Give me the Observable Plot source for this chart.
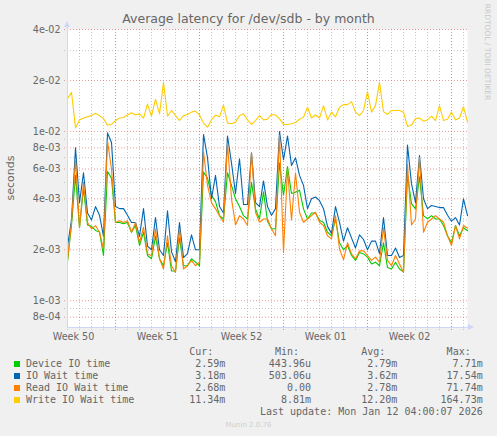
<!DOCTYPE html>
<html><head><meta charset="utf-8">
<script src="https://cdn.jsdelivr.net/npm/d3@7"></script>
<script src="https://cdn.jsdelivr.net/npm/@observablehq/plot@0.6"></script>
<style>
body{margin:0;background:#f0f0f0;}
#wrap{position:relative;width:497px;height:436px;background:#f0f0f0;overflow:hidden;font-family:"DejaVu Sans",sans-serif;color:#666;}
.abs{position:absolute;white-space:pre;}
.mono{font-family:"DejaVu Sans Mono",monospace;font-size:10px;line-height:12px;}
</style></head><body>
<div id="wrap">
  <div id="title" class="abs" style="left:0;top:11px;width:497px;text-align:center;font-size:12.5px;line-height:16px;"></div>
  <div id="chart" class="abs" style="left:0;top:28px;"></div>
  <div id="ylabel" class="abs" style="left:-39px;top:172px;width:100px;text-align:center;font-size:11px;line-height:12px;transform:rotate(-90deg);"></div>
  <div id="mark" class="abs" style="left:427px;top:47px;width:120px;text-align:center;font-size:7.5px;line-height:10px;color:#c8c8c8;transform:rotate(90deg);">RRDTOOL / TOBI OETIKER</div>
  <div id="legend"></div>
  <div class="abs" style="left:0;top:421px;width:497px;text-align:center;font-size:7px;line-height:8px;color:#cfcfcf;">Munin 2.0.76</div>
</div>
<script>
// ---- data ----
const titleText = "Average latency for /dev/sdb - by month";
const yLabel = "seconds";
const seriesNames = ["Device IO time", "IO Wait time", "Read IO Wait time", "Write IO Wait time"];
const seriesColors = ["#00CC00", "#0066B3", "#FF8000", "#FFCC00"];
const curVals = ["2.59m", "3.18m", "2.68m", "11.34m"];
const minVals = ["443.96u", "503.06u", "0.00", "8.81m"];
const avgVals = ["2.79m", "3.62m", "2.78m", "12.20m"];
const maxVals = ["7.71m", "17.54m", "71.74m", "164.73m"];
const lastUpdate = "Last update: Mon Jan 12 04:00:07 2026";
const weekLabels = ["Week 50", "Week 51", "Week 52", "Week 01", "Week 02"];
const yTicks = [8e-4, 1e-3, 2e-3, 4e-3, 6e-3, 8e-3, 1e-2, 2e-2, 4e-2];
const yTickLabels = ["8e-04","1e-03","2e-03","4e-03","6e-03","8e-03","1e-02","2e-02","4e-02"];
const yMinor = [9e-4, 3e-3, 5e-3, 7e-3, 9e-3, 3e-2];
const yDomain = [6.95e-4, 4e-2];
const startTime = Date.UTC(2025, 11, 11);   // first sample, 8-hour steps
const stepHours = 8;

const deviceIO = [1.7e-3,2.8e-3,5.5e-3,2.7e-3,4.6e-3,2.8e-3,2.75e-3,2.6e-3,2.55e-3,1.85e-3,
5.8e-3,5.3e-3,2.9e-3,2.9e-3,2.85e-3,2.9e-3,2.54e-3,2.78e-3,2.12e-3,2.54e-3,
1.85e-3,1.77e-3,2.4e-3,1.77e-3,1.61e-3,2.2e-3,1.5e-3,1.5e-3,2.35e-3,1.61e-3,
1.61e-3,1.77e-3,1.69e-3,1.61e-3,5.75e-3,5.3e-3,4.2e-3,3.85e-3,3.18e-3,3.04e-3,
5.7e-3,4.8e-3,4.0e-3,3.6e-3,3.18e-3,3.04e-3,5.0e-3,3.49e-3,3.04e-3,4.4e-3,
2.95e-3,2.66e-3,2.66e-3,6.5e-3,4.2e-3,6.2e-3,4.3e-3,4.37e-3,4.5e-3,3.49e-3,
3.04e-3,3.3e-3,3.3e-3,2.98e-3,2.91e-3,2.54e-3,2.42e-3,3.04e-3,2.2e-3,2.0e-3,
2.12e-3,1.85e-3,1.73e-3,1.93e-3,1.89e-3,1.81e-3,1.65e-3,1.69e-3,1.61e-3,2.2e-3,
1.57e-3,1.54e-3,1.69e-3,1.54e-3,1.48e-3,5.5e-3,3.75e-3,3.49e-3,5.4e-3,3.18e-3,
3.05e-3,3.18e-3,3.04e-3,3.04e-3,2.78e-3,2.42e-3,2.2e-3,2.78e-3,2.42e-3,2.7e-3,2.59e-3];

const ioWait = [2.1e-3,3.0e-3,8.0e-3,3.8e-3,5.7e-3,3.3e-3,3.0e-3,3.6e-3,3.2e-3,2.4e-3,
9.8e-3,8.6e-3,3.6e-3,3.5e-3,3.5e-3,3.2e-3,2.9e-3,2.9e-3,2.4e-3,3.5e-3,
2.1e-3,2.0e-3,3.1e-3,2.0e-3,1.85e-3,3.4e-3,1.95e-3,1.7e-3,2.9e-3,1.8e-3,
1.9e-3,2.45e-3,2.0e-3,2.0e-3,9.6e-3,7.0e-3,4.0e-3,5.5e-3,3.6e-3,3.3e-3,
9.4e-3,6.5e-3,4.3e-3,6.9e-3,3.7e-3,3.7e-3,7.5e-3,3.8e-3,3.6e-3,5.1e-3,
3.6e-3,3.2e-3,3.5e-3,1.0e-2,6.8e-3,9.4e-3,6.3e-3,7.0e-3,5.5e-3,4.8e-3,
3.5e-3,4.0e-3,4.1e-3,3.9e-3,3.5e-3,2.75e-3,2.5e-3,3.6e-3,2.9e-3,2.25e-3,
2.7e-3,2.35e-3,2.05e-3,2.45e-3,2.3e-3,2.0e-3,2.25e-3,2.25e-3,1.9e-3,3.1e-3,
1.85e-3,1.85e-3,2.05e-3,1.8e-3,1.85e-3,8.3e-3,4.9e-3,3.8e-3,7.2e-3,4.0e-3,
3.5e-3,3.65e-3,3.6e-3,3.55e-3,3.55e-3,3.2e-3,2.95e-3,3.1e-3,2.8e-3,4.0e-3,3.18e-3];

const readWait = [1.75e-3,2.9e-3,6.8e-3,2.7e-3,5.0e-3,2.9e-3,2.66e-3,2.78e-3,2.54e-3,2.02e-3,
8.8e-3,6.0e-3,2.9e-3,2.97e-3,2.9e-3,2.97e-3,2.54e-3,2.9e-3,2.2e-3,2.72e-3,
1.89e-3,1.85e-3,2.66e-3,1.77e-3,1.54e-3,2.42e-3,1.61e-3,1.47e-3,2.66e-3,1.54e-3,
1.61e-3,1.73e-3,1.61e-3,1.69e-3,7.6e-3,4.8e-3,3.8e-3,3.49e-3,3.18e-3,2.91e-3,
8.5e-3,4.0e-3,2.8e-3,3.18e-3,3.04e-3,2.78e-3,7.5e-3,3.33e-3,2.91e-3,3.04e-3,
3.04e-3,2.66e-3,2.42e-3,9.5e-3,1.93e-3,6.0e-3,3.0e-3,5.7e-3,3.33e-3,2.91e-3,
3.04e-3,3.18e-3,3.33e-3,2.91e-3,2.78e-3,2.42e-3,2.32e-3,3.18e-3,2.02e-3,1.75e-3,
2.2e-3,1.89e-3,1.77e-3,1.97e-3,1.97e-3,1.85e-3,1.73e-3,1.81e-3,1.69e-3,2.7e-3,
1.73e-3,1.61e-3,1.85e-3,1.65e-3,1.47e-3,6.4e-3,2.8e-3,3.04e-3,7.0e-3,2.54e-3,
2.91e-3,3.04e-3,3.18e-3,3.04e-3,2.91e-3,2.42e-3,2.12e-3,2.78e-3,2.32e-3,2.78e-3,2.68e-3];

const writeWait = [1.56e-2,1.7e-2,1.05e-2,1.17e-2,1.2e-2,1.22e-2,1.24e-2,1.28e-2,1.24e-2,1.19e-2,
1.09e-2,1.1e-2,1.16e-2,1.2e-2,1.21e-2,1.25e-2,1.29e-2,1.25e-2,1.27e-2,1.2e-2,
1.45e-2,1.23e-2,1.55e-2,1.27e-2,1.95e-2,1.23e-2,1.33e-2,1.24e-2,1.16e-2,1.24e-2,
1.26e-2,1.3e-2,1.32e-2,1.25e-2,1.12e-2,1.06e-2,1.17e-2,1.25e-2,1.22e-2,1.43e-2,
1.12e-2,1.11e-2,1.135e-2,1.24e-2,1.27e-2,1.17e-2,1.1e-2,1.16e-2,1.24e-2,1.17e-2,
1.18e-2,1.26e-2,1.25e-2,1.19e-2,1.1e-2,1.1e-2,1.11e-2,1.13e-2,1.18e-2,1.215e-2,
1.39e-2,1.2e-2,1.25e-2,1.2e-2,1.42e-2,1.17e-2,1.3e-2,1.22e-2,1.39e-2,1.44e-2,
1.44e-2,1.5e-2,1.3e-2,1.24e-2,1.33e-2,1.72e-2,1.3e-2,1.42e-2,1.95e-2,1.31e-2,
1.26e-2,1.33e-2,1.33e-2,1.33e-2,1.3e-2,1.07e-2,1.09e-2,1.19e-2,1.2e-2,1.15e-2,
1.17e-2,1.23e-2,1.16e-2,1.42e-2,1.16e-2,1.18e-2,1.3e-2,1.17e-2,1.2e-2,1.4e-2,1.134e-2];

const seriesValues = [deviceIO, ioWait, readWait, writeWait];

// ---- build ----
document.getElementById("title").textContent = titleText;
document.getElementById("ylabel").textContent = yLabel;

const hour = 3600 * 1000;
const times = deviceIO.map((_, k) => new Date(startTime + k * stepHours * hour));
const xDomain = [times[0], times[times.length - 1]];

const dayLines = d3.utcDay.range(xDomain[0], new Date(+xDomain[1] + 1));
const weekLines = d3.utcMonday.range(xDomain[0], new Date(+xDomain[1] + 1));
const weekMids = d3.utcMonday.range(d3.utcMonday.floor(xDomain[0]), xDomain[1])
  .slice(0, weekLabels.length).map(d => d3.utcHour.offset(d, 84));

function yLabelOf(d) {
  const i = yTicks.findIndex(v => Math.abs(v - d) / v < 1e-6);
  return i < 0 ? "" : yTickLabels[i];
}
function xLabelOf(d) {
  const i = weekMids.findIndex(w => Math.abs(+w - +d) < 60000);
  return i < 0 ? "" : weekLabels[i];
}

const lineMarks = seriesValues.map((vals, i) =>
  Plot.line(vals.map((v, k) => ({t: times[k], v})), {x: "t", y: "v", stroke: seriesColors[i], strokeWidth: 1.1})
);

const gridStyle = {stroke: "#b8b8b8", strokeOpacity: 0.8, strokeDasharray: "1,2", strokeWidth: 1};
const mgridStyle = {stroke: "#e07070", strokeOpacity: 0.7, strokeDasharray: "1,2", strokeWidth: 1};

const plot = Plot.plot({
  width: 497, height: 318,
  marginTop: 1, marginBottom: 19, marginLeft: 67, marginRight: 30,
  style: {background: "transparent", fontFamily: "DejaVu Sans", fontSize: "9.6px", color: "#666", overflow: "visible"},
  x: {type: "utc", domain: xDomain},
  y: {type: "log", domain: yDomain, axis: null},
  marks: [
    Plot.frame({fill: "white", stroke: null}),
    Plot.ruleX(dayLines, {...gridStyle, insetBottom: -4}),
    Plot.ruleY(yMinor, {...gridStyle, insetLeft: -3}),
    Plot.ruleX(weekLines, {...mgridStyle, insetBottom: -4}),
    Plot.ruleY(yTicks, {...mgridStyle, insetLeft: -3}),
    Plot.text(yTicks, {y: d => d, text: yLabelOf, frameAnchor: "left", textAnchor: "end", dx: -7, fill: "#666"}),
    Plot.axisX({ticks: weekMids, tickSize: 0, tickPadding: 6, tickFormat: xLabelOf, label: null}),
    ...lineMarks,
    Plot.ruleX([xDomain[0]], {stroke: "#CFD6F8"}),
    Plot.ruleY([yDomain[0]], {stroke: "#CFD6F8"})
  ]
});
document.getElementById("chart").appendChild(plot);

// axis arrows (positions from the scales' ranges)
const xr = plot.scale("x").range, yr = plot.scale("y").range;
const svg = d3.select(plot);
const x0 = xr[0], x1 = xr[1], yb = yr[0], yt = yr[1];
svg.append("line").attr("x1", x0).attr("x2", x0).attr("y1", yt).attr("y2", yt - 2).attr("stroke", "#CFD6F8");
svg.append("path").attr("d", `M${x0 - 3},${yt - 2}L${x0 + 3},${yt - 2}L${x0},${yt - 8}Z`).attr("fill", "#CFD6F8");
svg.append("line").attr("x1", x1).attr("x2", x1 + 1).attr("y1", yb).attr("y2", yb).attr("stroke", "#CFD6F8");
svg.append("path").attr("d", `M${x1 + 1},${yb - 3}L${x1 + 1},${yb + 3}L${x1 + 7},${yb}Z`).attr("fill", "#CFD6F8");

// legend
const legend = document.getElementById("legend");
function addText(txt, style) {
  const d = document.createElement("div");
  d.className = "abs mono";
  d.textContent = txt;
  Object.assign(d.style, style);
  legend.appendChild(d);
}
const headers = ["Cur:", "Min:", "Avg:", "Max:"];
const colRight = [225.3, 311, 397.3, 482.7];
const headerTop = 346.3, rowStep = 12;
headers.forEach((h, j) => addText(h, {right: (497 - colRight[j] + 12) + "px", top: headerTop + "px"}));
const cols = [curVals, minVals, avgVals, maxVals];
seriesNames.forEach((name, i) => {
  const top = headerTop + rowStep * (i + 1);
  const sq = document.createElement("div");
  sq.className = "abs";
  Object.assign(sq.style, {left: "14px", top: (top + 3) + "px", width: "6px", height: "6px", background: seriesColors[i]});
  legend.appendChild(sq);
  addText(name, {left: "26px", top: top + "px"});
  cols.forEach((c, j) => addText(c[i], {right: (497 - colRight[j]) + "px", top: top + "px"}));
});
addText(lastUpdate, {right: (497 - 482.7) + "px", top: (headerTop + rowStep * 5 - 0.3) + "px"});
</script>
</body></html>
